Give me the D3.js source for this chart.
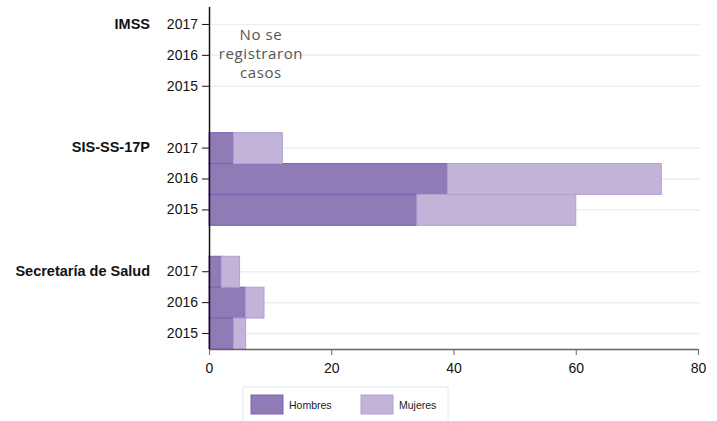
<!DOCTYPE html>
<html>
<head>
<meta charset="utf-8">
<script src="https://cdn.jsdelivr.net/npm/d3@7"></script>
<style>
  body { margin: 0; background: #fff; }
  svg { display: block; font-family: Arial, "Liberation Sans", sans-serif; }
</style>
</head>
<body>
<div id="chart"></div>
<script>
// Data: cases by institution, year and sex
const institutions = ["IMSS", "SIS-SS-17P", "Secretaría de Salud"];
const years = ["2017", "2016", "2015"];
const hombres = [[0, 0, 0], [4, 39, 34], [2, 6, 4]];
const mujeres = [[0, 0, 0], [8, 35, 26], [3, 3, 2]];
const xTicks = [0, 20, 40, 60, 80];
const seriesNames = ["Hombres", "Mujeres"];
const noCasesNote = ["No se", "registraron", "casos"];

const width = 717, height = 421;
const margin = {top: 9, right: 19, bottom: 72, left: 209};
const chartWidth = width - margin.left - margin.right;

// one slot per year plus an empty slot between groups
var rows = [];
institutions.forEach(function(inst, i) {
  years.forEach(function(yr, j) {
    rows.push({key: inst + "|" + yr, inst: inst, year: yr, h: hombres[i][j], m: mujeres[i][j], first: j == 0});
  });
  if (i < institutions.length - 1) rows.push({key: "gap" + i, gap: true});
});

var svg = d3.select("#chart").append("svg")
  .attr("width", width)
  .attr("height", height);

var x = d3.scaleLinear().domain([0, 80]).range([0, chartWidth]);
var y = d3.scaleBand()
  .domain(rows.map(d => d.key))
  .range([0, 340])
  .paddingInner(0)
  .paddingOuter(0);

var g = svg.append("g").attr("transform", `translate(${margin.left},${margin.top})`);
var dataRows = rows.filter(d => !d.gap);

// light horizontal gridlines
g.selectAll(".grid")
  .data(dataRows)
  .enter().append("line")
  .attr("x1", 0).attr("x2", x(80) + 2)
  .attr("y1", d => y(d.key) + y.bandwidth() / 2)
  .attr("y2", d => y(d.key) + y.bandwidth() / 2)
  .attr("stroke", "#e9f0f3")
  .attr("stroke-width", 1.5);

// stacked bars
g.selectAll(".barH")
  .data(dataRows.filter(d => d.h > 0))
  .enter().append("rect")
  .attr("x", x(0))
  .attr("y", d => y(d.key))
  .attr("width", d => x(d.h) - x(0))
  .attr("height", y.bandwidth())
  .attr("fill", "#8f7bb6")
  .attr("stroke", "#7b62b0")
  .attr("stroke-width", 1);

g.selectAll(".barM")
  .data(dataRows.filter(d => d.m > 0))
  .enter().append("rect")
  .attr("x", d => x(d.h))
  .attr("y", d => y(d.key))
  .attr("width", d => x(d.h + d.m) - x(d.h))
  .attr("height", y.bandwidth())
  .attr("fill", "#c2b3d9")
  .attr("stroke", "#b3a0d4")
  .attr("stroke-width", 1);

// x axis
var xAxis = g.append("g")
  .attr("transform", `translate(0,${y.range()[1]})`)
  .call(d3.axisBottom(x).tickValues(xTicks).tickSize(6).tickSizeOuter(0));
xAxis.select(".domain").attr("stroke", "#666").attr("stroke-width", 1.5);
xAxis.selectAll(".tick line").attr("stroke", "#666");
xAxis.selectAll("text").attr("font-size", "14px").attr("fill", "#111").attr("dy", "1.05em");

// y axis
var yAxis = g.append("g")
  .call(d3.axisLeft(y)
    .tickValues(dataRows.map(d => d.key))
    .tickFormat(k => k.split("|")[1])
    .tickSize(7).tickSizeOuter(0));
yAxis.select(".domain").attr("stroke", "#111").attr("stroke-width", 1.5)
  .attr("d", `M0.5,-2V${y.range()[1]}`);
yAxis.selectAll(".tick line").attr("stroke", "#111");
yAxis.selectAll("text").attr("font-size", "14px").attr("fill", "#111").attr("x", -11);

// institution labels
g.selectAll(".inst")
  .data(dataRows.filter(d => d.first))
  .enter().append("text")
  .attr("x", -59)
  .attr("y", d => y(d.key) + y.bandwidth() / 2)
  .attr("dy", "0.3em")
  .attr("text-anchor", "end")
  .attr("font-size", "14.5px")
  .attr("font-weight", "bold")
  .attr("fill", "#111")
  .text(d => d.inst);

// note for IMSS
var noteY = y("IMSS|2017") + y.bandwidth() / 2;
g.append("text")
  .attr("x", x(8.5))
  .attr("y", noteY + 16)
  .attr("text-anchor", "middle")
  .attr("font-family", "'Open Sans', 'Noto Sans', sans-serif")
  .attr("font-size", "15px")
  .attr("letter-spacing", "0.6px")
  .attr("fill", "#555")
  .selectAll("tspan")
  .data(noCasesNote)
  .enter().append("tspan")
  .attr("x", x(8.5))
  .attr("dy", (d, i) => i == 0 ? 0 : 19)
  .text(d => d);

// legend
var legend = svg.append("g").attr("transform", "translate(243,387)");
legend.append("rect")
  .attr("x", 0).attr("y", 0)
  .attr("width", 205).attr("height", 40)
  .attr("fill", "#fff")
  .attr("stroke", "#e3eaee");
var legendColors = [["#8f7bb6", "#7b62b0"], ["#c2b3d9", "#b3a0d4"]];
var item = legend.selectAll(".item")
  .data(seriesNames)
  .enter().append("g")
  .attr("transform", (d, i) => `translate(${8 + i * 110},8)`);
item.append("rect")
  .attr("width", 32).attr("height", 19)
  .attr("fill", (d, i) => legendColors[i][0])
  .attr("stroke", (d, i) => legendColors[i][1]);
item.append("text")
  .attr("x", 38).attr("y", 13.5)
  .attr("font-size", "10.5px")
  .attr("fill", "#222")
  .text(d => d);
</script>
</body>
</html>
